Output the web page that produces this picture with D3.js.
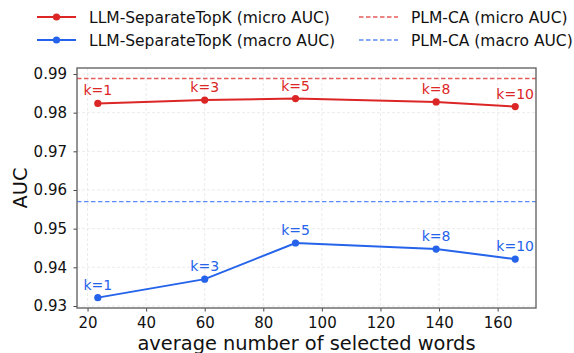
<!DOCTYPE html>
<html>
<head>
<meta charset="utf-8">
<script src="https://cdn.jsdelivr.net/npm/d3@7"></script>
<style>
  body { margin: 0; background: #fff; }
  text { font-family: "DejaVu Sans", sans-serif; }
</style>
</head>
<body>
<script>
// datos
var kLabels = ['k=1', 'k=3', 'k=5', 'k=8', 'k=10'];
var avgWords = [23.5, 60, 91, 139, 166];
var microAUC = [0.9824, 0.98325, 0.98364, 0.98278, 0.98158];
var macroAUC = [0.93216, 0.93694, 0.94629, 0.94473, 0.94213];
var plmMicro = 0.98885;
var plmMacro = 0.9570;
var xTicks = [20, 40, 60, 80, 100, 120, 140, 160];
var yTicks = [0.93, 0.94, 0.95, 0.96, 0.97, 0.98, 0.99];

var anchoSvg = 574, altoSvg = 353,
    margen = {sup: 68, dcho: 38, izq: 77, inf: 45};

var rojo = '#dc2626', azul = '#2563eb';
var rojoClaro = '#e65c5c', azulClaro = '#5b8cf5';

var escalaX = d3.scaleLinear()
    .domain([16.4, 173.1])
    .range([margen.izq, anchoSvg - margen.dcho]);

var escalaY = d3.scaleLinear()
    .domain([0.92948, 0.99155])
    .range([altoSvg - margen.inf, margen.sup]);

var svg = d3.select('body').append('svg')
    .attr('width', anchoSvg)
    .attr('height', altoSvg);

// rejilla
svg.append('g').selectAll('line.gx')
    .data(xTicks).enter().append('line')
    .attr('x1', d => escalaX(d)).attr('x2', d => escalaX(d))
    .attr('y1', margen.sup).attr('y2', altoSvg - margen.inf)
    .attr('stroke', '#e6e6e6').attr('stroke-width', 0.8).attr('stroke-dasharray', '3,2');
svg.append('g').selectAll('line.gy')
    .data(yTicks).enter().append('line')
    .attr('y1', d => escalaY(d)).attr('y2', d => escalaY(d))
    .attr('x1', margen.izq).attr('x2', anchoSvg - margen.dcho)
    .attr('stroke', '#e6e6e6').attr('stroke-width', 0.8).attr('stroke-dasharray', '3,2');

// lineas de referencia
[[plmMicro, rojoClaro], [plmMacro, azulClaro]].forEach(function (r) {
    svg.append('line')
        .attr('x1', margen.izq).attr('x2', anchoSvg - margen.dcho)
        .attr('y1', escalaY(r[0])).attr('y2', escalaY(r[0]))
        .attr('stroke', r[1])
        .attr('stroke-width', 1.4).attr('stroke-dasharray', '4.5,2.5');
});

var linea = d3.line()
    .x(d => escalaX(d[0]))
    .y(d => escalaY(d[1]));

[[microAUC, rojo], [macroAUC, azul]].forEach(function (s) {
    var pts = avgWords.map((x, i) => [x, s[0][i]]);
    svg.append('path')
        .attr('d', linea(pts))
        .attr('fill', 'none')
        .attr('stroke', s[1])
        .attr('stroke-width', 2);
    svg.append('g').selectAll('circle')
        .data(pts).enter().append('circle')
        .attr('cx', d => escalaX(d[0]))
        .attr('cy', d => escalaY(d[1]))
        .attr('r', 3.6)
        .attr('fill', s[1]);
    svg.append('g').selectAll('text')
        .data(pts).enter().append('text')
        .attr('x', d => escalaX(d[0]))
        .attr('y', d => escalaY(d[1]) - 8)
        .attr('text-anchor', 'middle')
        .attr('font-size', 14)
        .attr('fill', s[1])
        .text((d, i) => kLabels[i]);
});

// ejes
var ejeX = d3.axisBottom(escalaX).tickValues(xTicks).tickSize(3.5).tickPadding(5.5);
var gX = svg.append('g')
    .attr('transform', 'translate(0,' + (altoSvg - margen.inf) + ')')
    .call(ejeX);
var ejeY = d3.axisLeft(escalaY).tickValues(yTicks).tickFormat(d3.format('.2f')).tickSize(3.5).tickPadding(6.5);
var gY = svg.append('g')
    .attr('transform', 'translate(' + margen.izq + ',0)')
    .call(ejeY);
[gX, gY].forEach(function (g) {
    g.select('.domain').remove();
    g.selectAll('.tick line').attr('stroke', '#444').attr('stroke-width', 1);
    g.selectAll('.tick text').attr('font-size', 15).attr('fill', '#111')
        .attr('font-family', '"DejaVu Sans", sans-serif');
});

// marco
svg.append('rect')
    .attr('x', margen.izq).attr('y', margen.sup)
    .attr('width', anchoSvg - margen.izq - margen.dcho)
    .attr('height', altoSvg - margen.sup - margen.inf)
    .attr('fill', 'none').attr('stroke', '#666').attr('stroke-width', 1.4);

// etiquetas de ejes
svg.append('text')
    .attr('x', (margen.izq + anchoSvg - margen.dcho) / 2)
    .attr('y', 349.5)
    .attr('text-anchor', 'middle')
    .attr('font-size', 19.4)
    .attr('fill', '#111')
    .text('average number of selected words');
svg.append('text')
    .attr('transform', 'translate(27,' + ((margen.sup + altoSvg - margen.inf) / 2) + ') rotate(-90)')
    .attr('text-anchor', 'middle')
    .attr('font-size', 19.4)
    .attr('fill', '#111')
    .text('AUC');

// leyenda
var leyenda = [
    {t: 'LLM-SeparateTopK (micro AUC)', c: rojo, x: 37, y: 17, dash: false},
    {t: 'LLM-SeparateTopK (macro AUC)', c: azul, x: 37, y: 40, dash: false},
    {t: 'PLM-CA (micro AUC)', c: rojoClaro, x: 359, y: 17, dash: true},
    {t: 'PLM-CA (macro AUC)', c: azulClaro, x: 359, y: 40, dash: true}
];
var gl = svg.append('g').selectAll('g').data(leyenda).enter().append('g');
gl.append('line')
    .attr('x1', d => d.x).attr('x2', d => d.x + 39)
    .attr('y1', d => d.y).attr('y2', d => d.y)
    .attr('stroke', d => d.c)
    .attr('stroke-width', d => d.dash ? 1.4 : 2)
    .attr('stroke-dasharray', d => d.dash ? '4.5,2.5' : null);
gl.filter(d => !d.dash).append('circle')
    .attr('cx', d => d.x + 19.5).attr('cy', d => d.y).attr('r', 3.6)
    .attr('fill', d => d.c);
gl.append('text')
    .attr('x', d => d.x + 52)
    .attr('y', d => d.y + 5.5)
    .attr('font-size', 15.5)
    .attr('fill', '#111')
    .text(d => d.t);
</script>
</body>
</html>
